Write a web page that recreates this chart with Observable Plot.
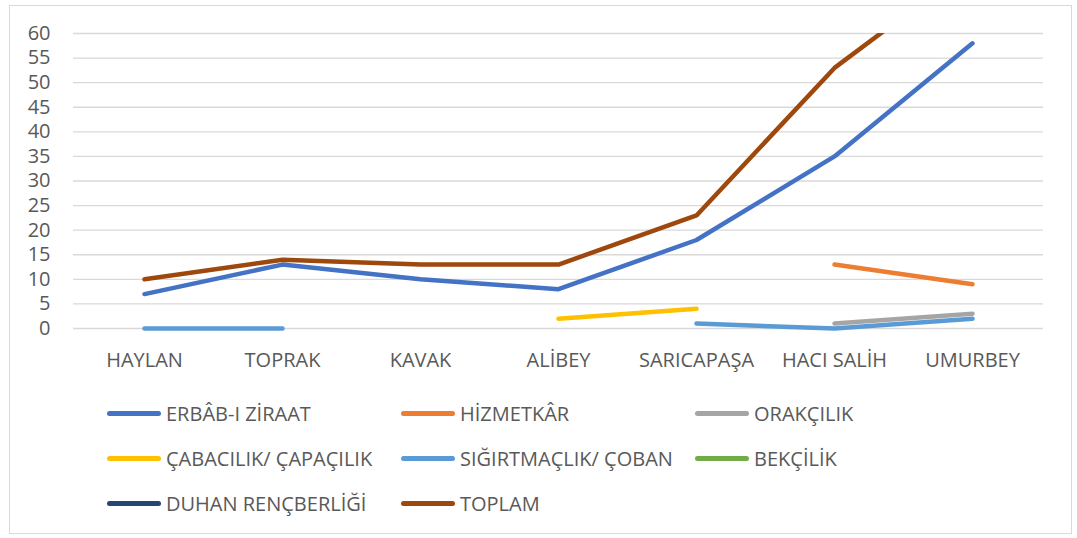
<!DOCTYPE html>
<html>
<head>
<meta charset="utf-8">
<script src="https://cdn.jsdelivr.net/npm/d3@7"></script>
<script src="https://cdn.jsdelivr.net/npm/@observablehq/plot@0.6"></script>
<style>
  html, body { margin: 0; padding: 0; background: #fff; }
  #wrap { position: relative; width: 1077px; height: 538px; overflow: hidden; font-family: "Open Sans", "Noto Sans", sans-serif; }
  #frame { position: absolute; left: 9px; top: 5px; width: 1063px; height: 529px; border: 1px solid #d9d9d9; box-sizing: border-box; }
  #chart { position: absolute; left: 0; top: 0; }
  #legend { position: absolute; left: 107px; top: 396px; width: 900px; display: grid; grid-template-columns: 294px 294px 294px; grid-auto-rows: 45px; }
  .item { display: flex; align-items: center; height: 34px; font-size: 20px; color: #595959; white-space: nowrap; }
  .sw { display: inline-block; width: 54px; height: 5px; border-radius: 3px; margin-right: 5px; }
</style>
</head>
<body>
<div id="wrap">
  <div id="frame"></div>
  <div id="chart"></div>
  <div id="legend"></div>
</div>
<script>
const categories = ["HAYLAN", "TOPRAK", "KAVAK", "ALİBEY", "SARICAPAŞA", "HACI SALİH", "UMURBEY"];
const seriesNames = ["ERBÂB-I ZİRAAT", "HİZMETKÂR", "ORAKÇILIK", "ÇABACILIK/ ÇAPAÇILIK", "SIĞIRTMAÇLIK/ ÇOBAN", "BEKÇİLİK", "DUHAN RENÇBERLİĞİ", "TOPLAM"];
const seriesColors = ["#4472C4", "#ED7D31", "#A5A5A5", "#FFC000", "#5B9BD5", "#70AD47", "#264478", "#9E480E"];
const erbabZiraat = [7, 13, 10, 8, 18, 35, 58];
const hizmetkar = [null, null, null, null, null, 13, 9];
const orakcilik = [null, null, null, null, null, 1, 3];
const cabacilik = [null, null, null, 2, 4, null, null];
const sigirtmaclik = [0, 0, null, null, 1, 0, 2];
const bekcilik = [null, null, null, null, null, null, null];
const duhanRencberligi = [null, null, null, null, null, null, null];
const toplam = [10, 14, 13, 13, 23, 53, 74];
const yTicks = [0, 5, 10, 15, 20, 25, 30, 35, 40, 45, 50, 55, 60];

const seriesValues = [erbabZiraat, hizmetkar, orakcilik, cabacilik, sigirtmaclik, bekcilik, duhanRencberligi, toplam];
const rows = [];
seriesNames.forEach((s, si) => {
  categories.forEach((c, ci) => {
    rows.push({series: s, order: si, cat: c, value: seriesValues[si][ci]});
  });
});
const lastName = seriesNames[seriesNames.length - 1];
const otherRows = rows.filter(d => d.series !== lastName);
const totalRows = rows.filter(d => d.series === lastName);

const lineOpts = {x: "cat", y: "value", z: "series", stroke: "series", strokeWidth: 4.5, strokeLinecap: "round", strokeLinejoin: "round"};

const plot = Plot.plot({
  width: 1077,
  height: 380,
  marginLeft: 73,
  marginRight: 34,
  marginTop: 33,
  marginBottom: 52,
  style: {fontFamily: '"Open Sans", "Noto Sans", sans-serif', fontSize: "20px", color: "#595959", background: "transparent", overflow: "visible"},
  x: {type: "point", domain: categories, padding: 0.5},
  y: {domain: [0, 60]},
  color: {domain: seriesNames, range: seriesColors},
  marks: [
    Plot.gridY(yTicks, {stroke: "#d9d9d9", strokeOpacity: 1, strokeWidth: 1.3}),
    Plot.axisY(yTicks, {tickSize: 0, tickPadding: 23, fontSize: 20, label: null}),
    Plot.axisX({tickSize: 0, tickPadding: 24, fontSize: 20, label: null}),
    Plot.line(otherRows, lineOpts),
    Plot.line(totalRows, {...lineOpts, clip: true})
  ]
});
document.getElementById("chart").appendChild(plot);

const legend = document.getElementById("legend");
seriesNames.forEach((s, i) => {
  const item = document.createElement("div");
  item.className = "item";
  const sw = document.createElement("span");
  sw.className = "sw";
  sw.style.background = seriesColors[i];
  item.appendChild(sw);
  item.appendChild(document.createTextNode(s));
  legend.appendChild(item);
});
</script>
</body>
</html>
